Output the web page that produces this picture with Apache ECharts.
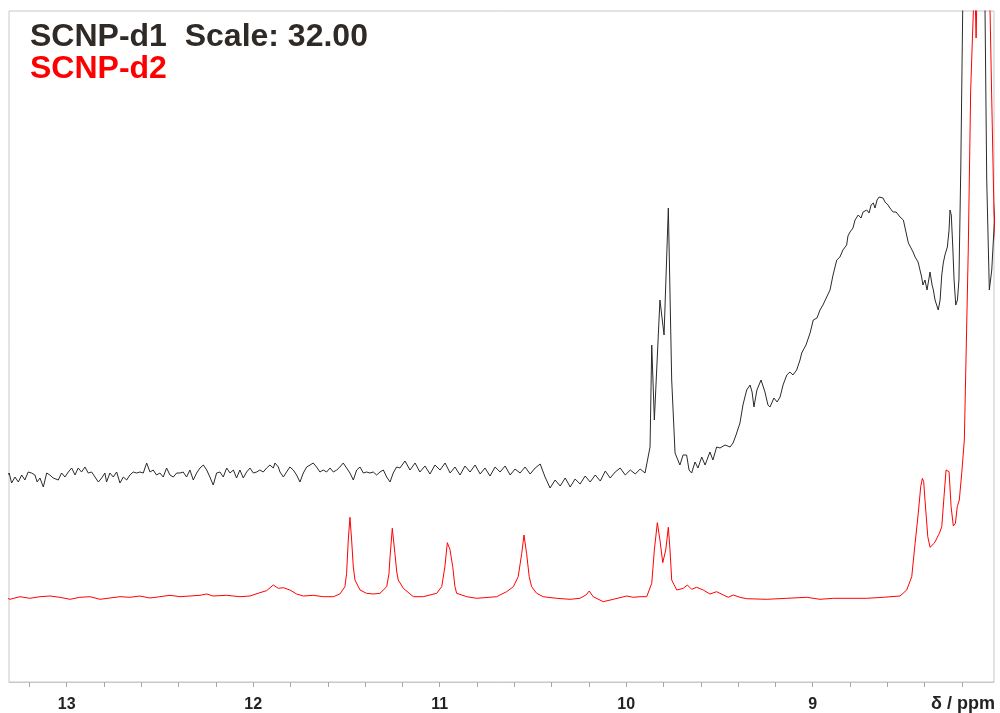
<!DOCTYPE html>
<html>
<head>
<meta charset="utf-8">
<script src="https://cdn.jsdelivr.net/npm/echarts@6/dist/echarts.min.js"></script>
<style>html,body{margin:0;padding:0;background:#fff}#c{width:1000px;height:713px}</style>
</head>
<body>
<div id="c"></div>
<script>
// Chemical shift (ppm) and intensity (a.u.)
const d1Left = [
[13.32,206],[13.308,209],[13.295,199],[13.277,205],[13.259,200],[13.241,207],[13.224,202],[13.206,210],[13.188,209],[13.170,207],
[13.158,200],[13.143,204],[13.125,195],[13.107,209],[13.090,207],[13.072,204],[13.045,202],[13.027,209],[13.009,205],[12.991,210],
[12.973,214],[12.955,207],[12.938,214],[12.920,210],[12.902,215],[12.884,209],[12.866,210],[12.848,205],[12.830,200],[12.812,204],
[12.795,209],[12.786,200],[12.768,209],[12.750,205],[12.732,210],[12.714,199],[12.696,205],[12.678,202],[12.661,207],[12.643,210],
[12.625,209],[12.607,210],[12.589,209],[12.571,219],[12.553,210],[12.536,212],[12.518,207],[12.500,209],[12.482,205],[12.464,214],
[12.446,207],[12.428,205],[12.410,209],[12.392,209],[12.375,210],[12.357,205],[12.339,212],[12.321,202],[12.303,209],[12.285,214],
[12.267,217],[12.249,212],[12.232,205],[12.214,197],[12.196,209],[12.178,210],[12.160,205],[12.142,214],[12.124,209],[12.106,212],
[12.089,204],[12.071,212],[12.053,204],[12.035,210],[12.017,214],[11.999,209],[11.981,210],[11.964,212],[11.946,210],[11.928,214],
[11.910,217],[11.892,214],[11.883,219],[11.865,215],[11.856,210],[11.838,205],[11.821,210],[11.803,215],[11.785,212],[11.767,207],
[11.749,200],[11.731,209],[11.713,215],[11.695,217],[11.678,219],[11.660,215],[11.642,210],[11.624,212],[11.606,210],[11.588,214],
[11.570,210],[11.552,212],[11.535,215],[11.517,219],[11.499,214],[11.481,209],[11.463,202],[11.445,212],[11.427,215],[11.409,209],
[11.392,210],[11.374,209],[11.356,210],[11.338,207],[11.320,210],[11.302,212],[11.284,205],[11.266,200],[11.249,209],[11.231,215]
];
const d1Mid = [
[11.213,214],[11.186,221],[11.159,212],[11.132,219],[11.106,210],[11.079,216],[11.052,208],[11.025,217],[10.998,212],[10.971,219],
[10.944,209],[10.918,215],[10.891,207],[10.864,216],[10.837,210],[10.810,217],[10.783,208],[10.757,214],[10.730,206],[10.703,215],
[10.676,210],[10.649,216],[10.622,207],[10.596,213],[10.569,209],[10.542,215],[10.515,208],[10.488,214],[10.461,218],[10.435,205],
[10.408,194],[10.381,202],[10.354,196],[10.327,204],[10.300,195],[10.274,203],[10.247,198],[10.220,206],[10.193,200],[10.166,207],
[10.139,201],[10.112,211],[10.086,204],[10.059,210],[10.032,214],[10.005,207],[9.978,212],[9.951,208],[9.925,213]
];
const d1Right = [
[9.899,209],[9.872,235],[9.863,337],[9.849,262],[9.819,382],[9.797,347],[9.774,474],[9.756,302],[9.738,229],[9.712,217],
[9.695,227],[9.676,227],[9.663,212],[9.649,209],[9.631,220],[9.615,214],[9.595,225],[9.577,217],[9.551,230],[9.535,222],
[9.515,235],[9.497,234],[9.470,237],[9.443,235],[9.427,239],[9.411,247],[9.390,259],[9.374,277],[9.354,292],[9.336,297],
[9.325,290],[9.315,275],[9.299,292],[9.277,302],[9.256,290],[9.240,277],[9.229,275],[9.208,284],[9.191,280],[9.175,285],
[9.159,297],[9.139,307],[9.122,310],[9.106,307],[9.086,312],[9.068,322],[9.059,329],[9.036,337],[9.014,349],[8.997,362],
[8.977,364],[8.961,372],[8.945,377],[8.925,385],[8.907,392],[8.891,407],[8.871,422],[8.854,425],[8.838,432],[8.818,437],
[8.811,446],[8.800,450],[8.784,454],[8.773,462],[8.756,467],[8.741,464],[8.730,470],[8.710,472],[8.698,469],[8.687,477],
[8.675,479],[8.666,474],[8.655,482],[8.644,485],[8.634,487],[8.623,484],[8.612,480],[8.596,477],[8.586,474],[8.569,470],
[8.553,470],[8.532,465],[8.514,462],[8.500,450],[8.487,439],[8.473,434],[8.462,430],[8.451,425],[8.435,420],[8.416,405],
[8.409,397],[8.398,402],[8.387,392],[8.371,410],[8.360,397],[8.353,392],[8.344,382],[8.327,372],[8.317,382],[8.308,407],
[8.300,419],[8.291,427],[8.278,435],[8.269,452],[8.264,472],[8.257,467],[8.249,435],[8.242,402],[8.233,377],[8.224,382],
[8.216,402],[8.206,515],[8.196,669],[8.189,800],[8.082,800],[8.076,669],[8.067,502],[8.053,392],[8.040,412],[8.026,460],[8.020,480]
];
const d2Left = [
[13.32,84],[13.304,82.7],[13.250,85.3],[13.197,83.7],[13.143,85.3],[13.090,86],[13.036,84.7],[12.982,82.7],[12.929,84.7],[12.875,85.3],
[12.821,82.7],[12.768,84],[12.714,85.3],[12.661,84.7],[12.607,86],[12.553,84],[12.500,85.3],[12.446,86.7],[12.392,85.3],[12.339,86],
[12.285,86.7],[12.249,88],[12.214,86],[12.142,86.7],[12.071,85.3],[12.017,86],[11.964,89.3],[11.928,91.3],[11.892,97],[11.865,93.7],
[11.838,94.3],[11.803,92],[11.767,88],[11.731,86],[11.678,86.7],[11.624,85.3],[11.570,85.3],[11.535,88],[11.508,95.3],[11.499,108.7],
[11.490,142],[11.481,164.7],[11.472,142],[11.463,115],[11.454,102],[11.427,92],[11.392,88.7],[11.356,88],[11.320,88.7],[11.284,95.3],
[11.272,108],[11.266,125.3],[11.254,153.7],[11.240,128.7],[11.230,110],[11.222,102]
];
const d2Mid = [
[11.195,93.7],[11.141,85.3],[11.088,85.3],[11.016,88.7],[10.989,95.3],[10.972,115.3],[10.959,139.3],[10.945,132.7],[10.930,115.3],[10.918,95.3],
[10.909,88.7],[10.855,85.3],[10.802,83.7],[10.694,85.3],[10.677,87],[10.641,90.3],[10.605,95.3],[10.579,105.3],[10.560,128.7],[10.548,147],
[10.534,128.7],[10.520,105.3],[10.507,95.3],[10.480,88.7],[10.445,85.3],[10.373,83.7],[10.301,82.7],[10.248,83.7],[10.216,87],[10.198,91],
[10.177,85.3],[10.123,80.3],[10.069,82.7],[9.997,86],[9.962,84.7],[9.926,85.3]
];
const d2Right = [
[9.890,85.3],[9.863,98.7],[9.849,132],[9.833,159.3],[9.819,142],[9.804,119.3],[9.788,132],[9.774,154.7],[9.765,132],[9.756,102],
[9.729,92],[9.694,93.7],[9.672,97],[9.649,92.7],[9.622,94.7],[9.587,92],[9.551,88],[9.515,90.3],[9.479,87],[9.453,84.7],
[9.426,87],[9.390,84.7],[9.354,83.3],[9.247,82.7],[9.139,83.7],[9.032,84.7],[8.961,82.7],[8.889,83.7],[8.800,83.7],[8.710,83.7],
[8.621,84.7],[8.532,86],[8.496,92],[8.469,105.3],[8.451,138.7],[8.434,168.7],[8.421,195.3],[8.412,203.7],[8.405,200.3],[8.398,182],
[8.383,145.3],[8.371,134.7],[8.362,132.7],[8.349,138.7],[8.339,142],[8.321,148.7],[8.308,155.3],[8.296,185.3],[8.285,212],[8.275,210.3],
[8.269,210.3],[8.258,175.3],[8.246,156],[8.235,158.7],[8.225,175.3],[8.214,182],[8.201,208.7],[8.187,242],[8.166,432],[8.153,592],
[8.139,669],[8.133,720],[8.124,644],[8.116,720],[8.103,800],[8.066,800],[8.049,669],[8.040,582],[8.028,469],[8.020,440]
];
const xTickValues = [8.2,8.4,8.6,8.8,9,9.2,9.4,9.6,9.8,10,10.2,10.4,10.6,10.8,11,11.2,11.4,11.6,11.8,12,12.2,12.4,12.6,12.8,13,13.2];
const xLabelValues = [9,10,11,12,13];
const titleLine1 = 'SCNP-d1  Scale: 32.00';
const titleLine2 = 'SCNP-d2';
const axisTitle = 'δ / ppm';

const scnp1 = d1Left.concat(d1Mid, d1Right);
const scnp2 = d2Left.concat(d2Mid, d2Right);

const chart = echarts.init(document.getElementById('c'), null, {renderer: 'canvas'});
chart.setOption({
  animation: false,
  backgroundColor: '#fff',
  grid: {left: 9, right: 6, top: 11, bottom: 31, show: true, borderColor: '#c8c8c8', borderWidth: 1, containLabel: false},
  xAxis: {
    type: 'value', inverse: true, min: 8.028, max: 13.309,
    axisLine: {show: true, onZero: false, lineStyle: {color: '#c8c8c8', width: 1}},
    axisTick: {show: true, length: 5, customValues: xTickValues, lineStyle: {color: '#a8a8a8'}},
    minorTick: {show: false},
    splitLine: {show: false}, minorSplitLine: {show: false},
    axisLabel: {
      show: true, margin: 15, customValues: xLabelValues,
      color: '#222', fontSize: 16, fontWeight: 'bold', fontFamily: '"Liberation Sans", Arial, sans-serif',
      formatter: function (v) { return String(Math.round(v)); }
    }
  },
  yAxis: {type: 'value', min: 0, max: 671, show: false},
  graphic: [
    {type: 'text', left: 30, top: 21, style: {text: titleLine1, font: 'bold 32px "Liberation Sans", Arial, sans-serif', fill: '#302a26'}},
    {type: 'text', left: 30, top: 53, style: {text: titleLine2, font: 'bold 32px "Liberation Sans", Arial, sans-serif', fill: '#ff0000'}},
    {type: 'text', right: 5, top: 695, style: {text: axisTitle, font: 'bold 18px "Liberation Sans", Arial, sans-serif', fill: '#222'}}
  ],
  series: [
    {name: 'SCNP-d1', type: 'line', data: scnp1, showSymbol: false, symbol: 'none', clip: true,
     lineStyle: {color: '#2a2a2a', width: 1}, itemStyle: {color: '#2a2a2a'}},
    {name: 'SCNP-d2', type: 'line', data: scnp2, showSymbol: false, symbol: 'none', clip: true,
     lineStyle: {color: '#ff0000', width: 1}, itemStyle: {color: '#ff0000'}}
  ]
});
</script>
</body>
</html>
